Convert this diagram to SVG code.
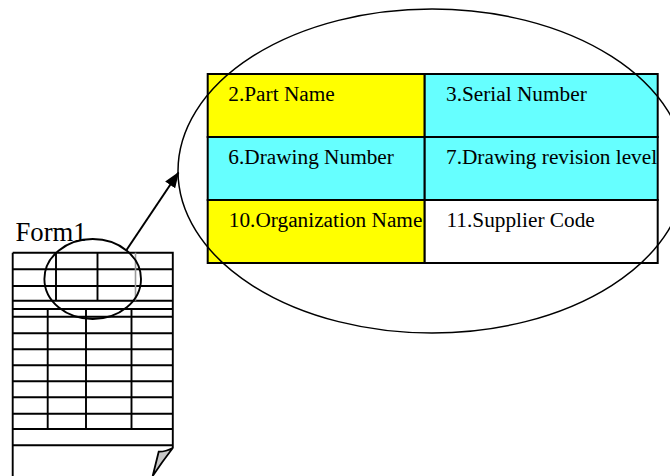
<svg xmlns="http://www.w3.org/2000/svg" width="670" height="476" viewBox="0 0 670 476">
<defs>
<marker id="ah" markerWidth="16" markerHeight="12" refX="15" refY="6" orient="auto" markerUnits="userSpaceOnUse">
<path d="M0,0 L16,6 L0,12 Z" fill="#000"/>
</marker>
<style>
.ln{stroke:#000;stroke-width:1.9;fill:none}
.cell{stroke:#000;stroke-width:2}
.t{font-family:"Liberation Serif","Times New Roman",serif;font-size:21.3px;fill:#000}
.f{font-family:"Liberation Serif","Times New Roman",serif;font-size:26.7px;fill:#000}
</style>
</defs>
<rect width="670" height="476" fill="#fff"/>
<g id="form">
<text class="f" x="15.5" y="241">Form1</text>
<path class="ln" d="M12.7,252.7 H172.8 V448.3 M12.7,252.7 V476"/>
<path class="ln" d="M12.7,269.3 H172.8 M12.7,286 H172.8 M12.7,300.7 H172.8 M12.7,309 H172.8 M12.7,316.7 H172.8 M12.7,333.3 H172.8 M12.7,349.3 H172.8 M12.7,365.3 H172.8 M12.7,381.3 H172.8 M12.7,397.3 H172.8 M12.7,413.7 H172.8 M12.7,429 H172.8 M12.7,445.3 H172.8"/>
<path class="ln" d="M56,252.7 V300.7 M97.5,252.7 V300.7"/>
<path d="M135.5,252.7 V300.7" stroke="#999" stroke-width="1.6"/>
<path class="ln" d="M47.7,309 V429 M86,309 V429 M131.5,309 V429"/>
<path d="M172.8,448 Q165,452 158.7,451.7 L152.7,476 Q162,462 172.8,448 Z" fill="#c8c8c8" stroke="#000" stroke-width="1.8"/>
</g>
<g id="zoom-circle">
<ellipse cx="92.7" cy="279" rx="48.3" ry="40" class="ln"/>
</g>
<g id="detail">
<rect x="207.7" y="74" width="217" height="63" fill="#ffff00" class="cell"/>
<rect x="424.7" y="74" width="233" height="63" fill="#66ffff" class="cell"/>
<rect x="207.7" y="137" width="217" height="63" fill="#66ffff" class="cell"/>
<rect x="424.7" y="137" width="233" height="63" fill="#66ffff" class="cell"/>
<rect x="207.7" y="200" width="217" height="63" fill="#ffff00" class="cell"/>
<rect x="424.7" y="200" width="233" height="63" fill="#ffffff" class="cell"/>
<text class="t" x="228.3" y="100.7">2.Part Name</text>
<text class="t" x="446" y="100.7">3.Serial Number</text>
<text class="t" x="228.3" y="163.7">6.Drawing Number</text>
<text class="t" x="446" y="163.7">7.Drawing revision level</text>
<text class="t" x="228.8" y="226.7">10.Organization Name</text>
<text class="t" x="446.5" y="226.7">11.Supplier Code</text>
<ellipse cx="432" cy="171" rx="254" ry="162" fill="none" stroke="#000" stroke-width="1.5"/>
</g>
<g id="connectors">
<line x1="126.5" y1="250" x2="178.5" y2="172.5" stroke="#000" stroke-width="2" marker-end="url(#ah)"/>
</g>
</svg>
